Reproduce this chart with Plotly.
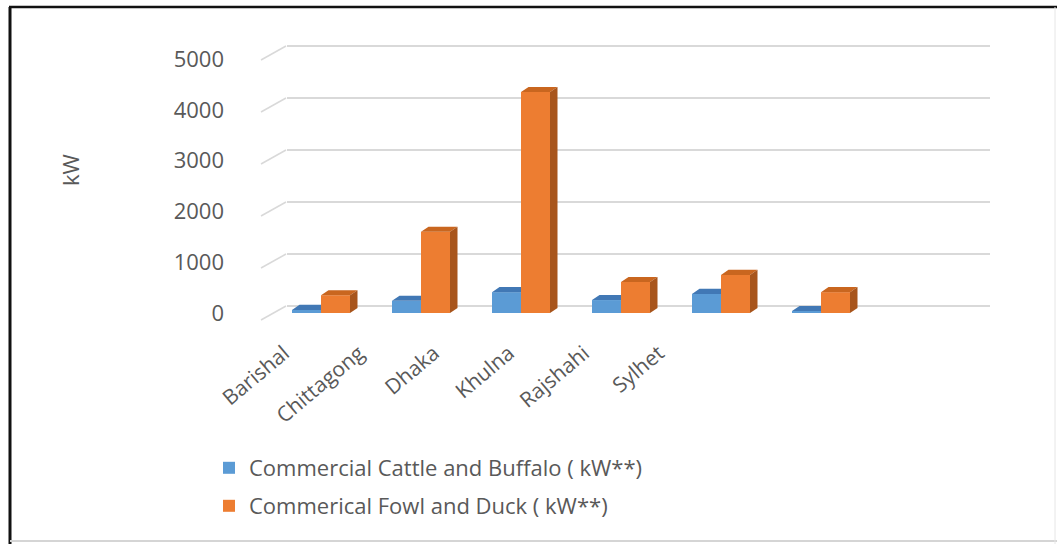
import plotly.graph_objects as go

# ---- data ----
categories = ["Barishal", "Chittagong", "Dhaka", "Khulna", "Rajshahi", "Sylhet"]
cattle_buffalo = [60, 240, 410, 255, 375, 40]
fowl_duck = [350, 1600, 4350, 610, 750, 410]
y_ticks = [0, 1000, 2000, 3000, 4000, 5000]
series_names = ["Commercial Cattle and Buffalo ( kW**)", "Commerical Fowl and Duck ( kW**)"]

W, H = 1057, 544
BLUE, ORANGE = "#5B9BD5", "#ED7D31"
BLUE_TOP, ORANGE_TOP, ORANGE_SIDE = "#4178B5", "#C9661F", "#A8551C"
TXT = "#595959"
FONT = "Open Sans"

# geometry helpers (pixel -> paper)
def px_x(p): return p / W
def px_y(p): return 1 - p / H

x_left, x_right = 287, 990
y_top, y_bot = 40, 313
xr = [-0.34, -0.34 + (x_right - x_left) / 100.0]
y_scale = 50.8 / 1000.0
yr = [0, (y_bot - y_top) / y_scale]
# back wall grid scale
bw_scale = 52 / 1000.0
bw0 = 306
y2r = [-(y_bot - bw0) / bw_scale, (bw0 - y_top) / bw_scale]
# category label axis (labels sit on the front floor edge, compressed by perspective)
lab0 = 290
x2r = [-(lab0 - x_left) / 75.0, (x_right - lab0) / 75.0]

bw = 0.29
dx, dy = 0.075, 100

xs = list(range(len(categories)))

def faces(vals, offset, clip):
    sx, sy, tx, ty = [], [], [], []
    for i, v in zip(xs, vals):
        xl = i + offset
        xrr = xl + bw
        if clip:
            tx += [xl, xl + dx, xrr, xrr, xl, None]
        else:
            tx += [xl, xl + dx, xrr + dx, xrr, xl, None]
        ty += [v, v + dy, v + dy, v, v, None]
        sx += [xrr, xrr + dx, xrr + dx, xrr, xrr, None]
        sy += [0, dy, v + dy, v, 0, None]
    return sx, sy, tx, ty

fig = go.Figure()
fig.add_trace(go.Bar(x=xs, y=cattle_buffalo, offset=-bw, width=bw, marker=dict(color=BLUE, line=dict(width=0)),
                     name=series_names[0], legend="legend", hoverinfo="skip"))
fig.add_trace(go.Bar(x=xs, y=fowl_duck, offset=0, width=bw, marker=dict(color=ORANGE, line=dict(width=0)),
                     name=series_names[1], legend="legend2", hoverinfo="skip"))

bsx, bsy, btx, bty = faces(cattle_buffalo, -bw, True)
osx, osy, otx, oty = faces(fowl_duck, 0, False)
for fx, fy, col in [(btx, bty, BLUE_TOP), (otx, oty, ORANGE_TOP), (osx, osy, ORANGE_SIDE)]:
    fig.add_trace(go.Scatter(x=fx, y=fy, fill="toself", fillcolor=col, mode="lines",
                             line=dict(width=0, color=col), showlegend=False, hoverinfo="skip"))

# helper trace to activate the overlay axes
fig.add_trace(go.Scatter(x=xs, y=[0] * len(xs), xaxis="x2", yaxis="y2", mode="markers",
                         marker=dict(opacity=0), showlegend=False, hoverinfo="skip"))

shapes = []
# diagonal stubs at the left of back wall grid lines (perspective edge)
for v in y_ticks:
    gy = bw0 - bw_scale * v
    shapes.append(dict(type="line", xref="paper", yref="paper",
                       x0=px_x(x_left - 26), x1=px_x(x_left - 1), y0=px_y(gy + 14), y1=px_y(gy),
                       line=dict(color="#D9D9D9", width=1.5)))
# frame
shapes += [
    dict(type="line", xref="paper", yref="paper", x0=px_x(9), x1=1, y0=px_y(7), y1=px_y(7),
         line=dict(color="#111111", width=2.5)),
    dict(type="line", xref="paper", yref="paper", x0=px_x(10), x1=px_x(10), y0=px_y(7), y1=0,
         line=dict(color="#111111", width=3)),
    dict(type="line", xref="paper", yref="paper", x0=px_x(10), x1=1, y0=px_y(541), y1=px_y(541),
         line=dict(color="#D5D5D5", width=2)),
    dict(type="line", xref="paper", yref="paper", x0=px_x(1055), x1=px_x(1055), y0=px_y(7), y1=0,
         line=dict(color="#E6E6E6", width=1)),
]

fig.update_layout(
    width=W, height=H, margin=dict(l=0, r=0, t=0, b=0, autoexpand=False),
    paper_bgcolor="white", plot_bgcolor="rgba(0,0,0,0)",
    barmode="overlay",
    font=dict(family=FONT, color=TXT),
    xaxis=dict(domain=[px_x(x_left), px_x(x_right)], range=xr, showgrid=False, zeroline=False,
               showticklabels=False, showline=False, ticks=""),
    yaxis=dict(domain=[px_y(y_bot), px_y(y_top)], range=yr, showgrid=False, zeroline=False,
               tickvals=y_ticks, ticktext=[str(v) for v in y_ticks], anchor="free",
               position=px_x(224), ticks="", tickfont=dict(size=22, color=TXT), showline=False),
    yaxis2=dict(overlaying="y", range=y2r, showgrid=True, gridcolor="#D9D9D9", gridwidth=1.5,
                tickvals=y_ticks, showticklabels=False, zeroline=False, ticks="", anchor="x"),
    xaxis2=dict(overlaying="x", range=x2r, tickvals=xs, ticktext=categories, tickangle=-40,
                anchor="free", position=px_y(336), side="bottom", showgrid=False, zeroline=False,
                showline=False, ticks="", ticklabelshift=-6, tickfont=dict(size=21, color=TXT)),
    legend=dict(x=px_x(209), y=px_y(468), xanchor="left", yanchor="middle",
                font=dict(size=22, color=TXT), bgcolor="rgba(0,0,0,0)"),
    legend2=dict(x=px_x(209), y=px_y(506), xanchor="left", yanchor="middle",
                 font=dict(size=22, color=TXT), bgcolor="rgba(0,0,0,0)"),
    annotations=[dict(text="kW", textangle=-90, x=px_x(70), y=px_y(170), xref="paper", yref="paper",
                      xanchor="center", yanchor="middle",
                      showarrow=False, font=dict(size=22, color=TXT))],
    shapes=shapes,
)

fig.write_html("out.html")
